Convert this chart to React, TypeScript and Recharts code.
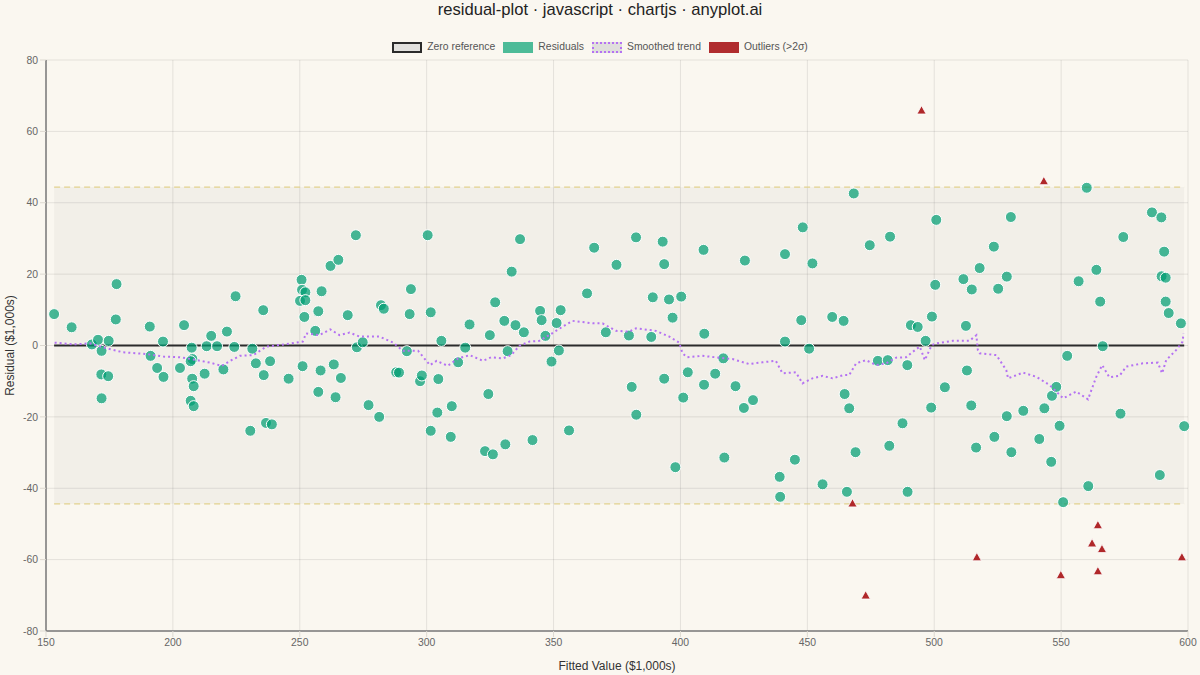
import React from 'react';
import {
  ScatterChart, Scatter, XAxis, YAxis, CartesianGrid, ReferenceArea, ReferenceLine,
} from 'recharts';

// fitted value ($1,000s), residual ($1,000s)
const residualPoints: [number, number][] = [
  [153.2, 8.8], [160.1, 5.1], [168.1, 0.3], [170.5, 1.6], [171.9, -1.5], [174.7, 1.3],
  [177.8, 17.2], [177.5, 7.3], [171.8, -8.1], [174.5, -8.6], [171.9, -14.8], [190.9, 5.3],
  [191.2, -2.9], [193.8, -6.3], [196.1, 1.1], [196.3, -8.8], [202.8, -6.3], [204.4, 5.7],
  [207.4, -0.6], [207.7, -3.8], [207.0, -4.4], [207.6, -9.3], [208.2, -11.4], [207.0, -15.5],
  [208.2, -17.0], [212.5, -7.9], [213.3, -0.2], [215.1, 2.7], [217.4, -0.2], [219.9, -6.7],
  [221.3, 3.9], [224.7, 13.8], [224.2, -0.4], [230.5, -23.9], [231.3, -0.9], [232.7, -5.0],
  [235.6, 9.9], [235.8, -8.3], [236.7, -21.7], [238.3, -4.4], [239.0, -22.1], [245.6, -9.3],
  [250.7, 18.4], [250.9, 15.6], [252.2, 14.9], [250.1, 12.5], [252.2, 12.7], [251.8, 8.0],
  [251.1, -5.8], [256.1, 4.1], [257.3, 9.6], [258.6, 15.2], [258.2, -7.0], [257.3, -13.0],
  [262.1, 22.3], [263.4, -5.3], [264.1, -14.5], [265.2, 24.0], [266.2, -9.1],
  [268.9, 8.5], [272.1, 30.9], [272.5, -0.5], [274.8, 0.9], [277.1, -16.7], [281.3, -20.0],
  [282.0, 11.3], [283.1, 10.3], [288.0, -7.5], [289.1, -7.6], [292.2, -1.6], [293.3, 8.8],
  [293.8, 15.8], [297.4, -10.0], [298.1, -8.4], [300.4, 30.9], [301.6, 9.3], [301.6, -23.9],
  [304.2, -18.8], [304.6, -9.4], [305.8, 1.3], [309.5, -25.6], [309.9, -17.0], [312.4, -4.7],
  [315.2, -0.6], [316.9, 5.9], [323.0, -29.6], [324.3, -13.6], [324.9, 2.9], [326.1, -30.5],
  [327.0, 12.1], [330.6, 6.9], [331.0, -27.7], [331.9, -1.6], [333.5, 20.7], [335.0, 5.7],
  [336.8, 29.8], [338.3, 3.7], [341.7, -26.5], [344.7, 9.7], [345.3, 7.1], [346.8, 2.7],
  [349.2, -4.5], [351.2, 6.3], [352.1, -1.4], [352.8, 9.9], [356.1, -23.8], [363.2, 14.6],
  [366.0, 27.4], [370.6, 3.7], [374.8, 22.6], [379.7, 2.8], [380.8, -11.6], [382.5, 30.3],
  [382.6, -19.4], [388.5, 2.4], [389.1, 13.5], [393.0, 29.1], [393.6, 22.8], [393.6, -9.3],
  [395.5, 12.9], [396.9, 7.8], [398.0, -34.1], [400.3, 13.7], [401.1, -14.6], [402.9, -7.5],
  [409.1, 26.8], [409.4, 3.3], [409.3, -11.0], [413.7, -7.9], [416.9, -3.6], [417.3, -31.4],
  [421.7, -11.4], [425.0, -17.5], [425.4, 23.8], [428.6, -15.3], [439.1, -36.8], [439.3, -42.4],
  [441.2, 25.6], [441.2, 1.1], [445.1, -32.0], [447.6, 7.1], [448.2, 33.1], [450.7, -0.9],
  [452.0, 23.0], [456.0, -38.9], [459.8, 8.0], [464.3, 6.9], [464.7, -13.6], [465.6, -41.0],
  [466.5, -17.6], [468.3, 42.6], [469.0, -29.9], [474.6, 28.1], [477.8, -4.3], [481.7, -4.1],
  [482.3, -28.1], [482.6, 30.5], [487.5, -21.8], [489.4, -5.5], [489.5, -41.0], [490.8, 5.7],
  [493.5, 5.2], [496.6, 1.3], [498.8, -17.4], [499.1, 8.1], [500.4, 17.0], [500.8, 35.2],
  [504.2, -11.7], [511.5, 18.6], [512.5, 5.5], [512.9, -7.0], [514.6, -16.8], [514.8, 15.7],
  [516.5, -28.6], [517.9, 21.7], [523.5, 27.7], [523.7, -25.6], [525.2, 15.9], [528.6, 19.3],
  [528.6, -19.8], [530.2, 36.0], [530.4, -29.9], [535.1, -18.3], [541.4, -26.2], [543.4, -17.6],
  [546.1, -32.6], [546.4, -14.1], [548.1, -11.6], [549.4, -22.5], [550.8, -43.9], [552.4, -2.9],
  [556.9, 18.0], [560.1, 44.2], [560.7, -39.4], [563.9, 21.2], [565.4, 12.3], [566.4, -0.2],
  [573.4, -19.1], [574.5, 30.4], [585.8, 37.3], [588.9, -36.3], [589.5, 35.9], [589.6, 19.4],
  [590.6, 26.3], [591.2, 19.0], [591.2, 12.3], [592.4, 9.1], [597.2, 6.2], [598.5, -22.6],
];

// points beyond 2 sigma
const outlierPoints: [number, number][] = [
  [495.0, 65.9], [543.2, 46.1], [467.8, -44.2], [473.0, -70.0], [516.8, -59.3], [549.9, -64.3],
  [564.5, -50.3], [562.2, -55.4], [566.1, -57.0], [564.5, -63.2], [597.6, -59.3],
];

// smoothed trend
const trendPoints: [number, number][] = [
  [153.4, 0.8], [160.8, 0.3], [167.3, 0.6], [173.9, -0.8], [180.4, -1.9], [189.6, -2.4],
  [196.2, -3.1], [202.8, -3.3], [208.0, -3.9], [214.6, -4.8], [219.2, -5.7], [223.1, -4.1],
  [226.4, -2.9], [231.7, -2.7], [236.9, -0.3], [244.8, 0.4], [251.2, 1.1], [252.5, 3.4],
  [257.7, 2.9], [262.0, 4.5], [265.7, 2.9], [269.6, 3.6], [273.6, 2.5], [281.4, 2.5],
  [286.8, 0.8], [290.7, -1.5], [296.6, -1.5], [301.3, -5.5], [303.9, -4.3], [308.3, -5.7],
  [312.4, -3.6], [317.0, -2.7], [322.2, -4.3], [325.4, -3.3], [330.0, -3.6], [333.3, -2.7],
  [336.5, -0.1], [340.5, 1.1], [344.4, 1.3], [348.3, 2.9], [353.6, 5.3], [357.5, 6.9],
  [365.4, 6.2], [369.3, 6.2], [374.6, 4.1], [379.8, 3.9], [382.5, 4.8], [390.3, 4.1],
  [395.6, 2.5], [399.5, 0.8], [400.8, -2.2], [402.7, -3.3], [408.6, -2.9], [413.9, -3.3],
  [420.5, -3.8], [427.1, -5.2], [432.3, -4.7], [437.6, -4.3], [440.2, -7.8], [445.5, -7.5],
  [448.1, -10.6], [452.0, -9.2], [456.0, -8.5], [459.9, -9.2], [464.2, -8.3], [466.5, -8.3],
  [469.2, -5.0], [473.1, -4.1], [477.1, -5.5], [481.0, -5.0], [485.0, -3.4], [488.9, -3.3],
  [491.5, -1.8], [494.3, -0.3], [496.3, -4.1], [499.0, 0.1], [500.8, 0.6], [507.3, 1.3],
  [513.9, 1.3], [516.6, 2.9], [517.2, -1.3], [517.9, -2.2], [524.5, -2.7], [528.4, -6.9],
  [529.1, -9.2], [535.0, -7.6], [540.3, -8.8], [545.5, -11.1], [550.8, -14.8], [556.0, -12.9],
  [560.6, -15.1], [563.9, -8.7], [566.2, -5.5], [569.0, -8.9], [573.0, -8.5], [575.7, -5.9],
  [582.2, -5.0], [588.1, -4.8], [589.8, -7.8], [591.4, -4.1], [595.3, -1.3], [597.9, 1.1],
  [598.2, 3.4],
];

const xTicks = [150, 200, 250, 300, 350, 400, 450, 500, 550, 600];
const yTicks = [-80, -60, -40, -20, 0, 20, 40, 60, 80];
const twoSigma = 44.4;
const fittedRange: [number, number] = [153.2, 598.5];

const FONT = '"Liberation Sans", Arial, Helvetica, sans-serif';
const TEAL = '#009E73';
const RED = '#B0282A';
const PURPLE = '#b572f2';
const GOLD = '#e2d28e';

const toXY = (pts: [number, number][]) => pts.map(([x, y]) => ({ x, y }));
const residualData = toXY(residualPoints);
const outlierData = toXY(outlierPoints);
const trendData = toXY(trendPoints);

const ResidualDot = (p: any) => (
  <circle cx={p.cx} cy={p.cy} r={5.5} fill={TEAL} fillOpacity={0.72} stroke="#ffffff" strokeWidth={1} />
);

const OutlierMark = (p: any) => {
  const s = 4.6;
  return (
    <polygon
      points={`${p.cx},${p.cy - s} ${p.cx + s},${p.cy + s * 0.8} ${p.cx - s},${p.cy + s * 0.8}`}
      fill={RED}
      stroke="#ffffff"
      strokeWidth={0.8}
    />
  );
};

const NoMark = () => <g />;

const legendItems = [
  { label: 'Zero reference', box: { background: '#e2e1de', border: '2px solid #2b2b2b' } },
  { label: 'Residuals', box: { background: '#4dbb98', border: '2px solid #4dbb98' } },
  { label: 'Smoothed trend', box: { background: '#e0dfdc', border: `2px dotted ${PURPLE}` } },
  { label: 'Outliers (>2σ)', box: { background: '#b02c2e', border: '2px solid #b02c2e' } },
];

export default function App() {
  return (
    <div style={{ position: 'absolute', left: 0, top: 0, width: 1200, height: 675, background: '#faf7f0', fontFamily: FONT }}>
      <div style={{ position: 'absolute', top: 0, left: 0, width: 1200, textAlign: 'center', fontSize: 16.6, lineHeight: '20px', color: '#222' }}>
        residual-plot · javascript · chartjs · anyplot.ai
      </div>
      <div style={{ position: 'absolute', top: 40, left: 0, width: 1200, display: 'flex', justifyContent: 'center', gap: 8, fontSize: 10.4, color: '#555', lineHeight: '14px' }}>
        {legendItems.map((it) => (
          <div key={it.label} style={{ display: 'flex', alignItems: 'center', gap: 5 }}>
            <span style={{ display: 'inline-block', width: 26, height: 7, ...it.box }} />
            <span>{it.label}</span>
          </div>
        ))}
      </div>
      <div style={{ position: 'absolute', left: 0, top: 0 }}>
        <ScatterChart width={1200} height={675} margin={{ top: 60, right: 12, bottom: 0, left: 0 }}>
          <CartesianGrid stroke="#000" strokeOpacity={0.09} />
          <ReferenceArea
            x1={fittedRange[0]} x2={fittedRange[1]} y1={-twoSigma} y2={twoSigma}
            fill="#000" fillOpacity={0.03} stroke="none"
          />
          <ReferenceLine
            segment={[{ x: fittedRange[0], y: twoSigma }, { x: fittedRange[1], y: twoSigma }]}
            stroke={GOLD} strokeWidth={1.2} strokeDasharray="6 4"
          />
          <ReferenceLine
            segment={[{ x: fittedRange[0], y: -twoSigma }, { x: fittedRange[1], y: -twoSigma }]}
            stroke={GOLD} strokeWidth={1.2} strokeDasharray="6 4"
          />
          <XAxis
            type="number" dataKey="x" domain={[150, 600]} ticks={xTicks} height={44}
            tick={{ fontSize: 10.4, fill: '#666', fontFamily: FONT }}
            tickLine={{ stroke: '#ddd9d1' }}
            axisLine={{ stroke: '#7a7a7a', strokeWidth: 1.5 }}
            label={{ value: 'Fitted Value ($1,000s)', position: 'insideBottom', offset: 5, fontSize: 12, fill: '#333', fontFamily: FONT }}
          />
          <YAxis
            type="number" dataKey="y" domain={[-80, 80]} ticks={yTicks} width={46}
            tick={{ fontSize: 10.4, fill: '#666', fontFamily: FONT }}
            tickLine={{ stroke: '#ddd9d1' }}
            axisLine={{ stroke: '#7a7a7a', strokeWidth: 1.5 }}
            label={{ value: 'Residual ($1,000s)', angle: -90, position: 'insideLeft', offset: 10, fontSize: 12, fill: '#333', fontFamily: FONT, style: { textAnchor: 'middle' } }}
          />
          <ReferenceLine
            segment={[{ x: fittedRange[0], y: 0 }, { x: fittedRange[1], y: 0 }]}
            stroke="#2b2b2b" strokeWidth={2}
          />
          <Scatter name="Residuals" data={residualData} shape={ResidualDot} isAnimationActive={false} />
          <Scatter
            name="Smoothed trend" data={trendData} shape={NoMark} isAnimationActive={false}
            fill="none" stroke={PURPLE}
            line={{ stroke: PURPLE, strokeWidth: 2, strokeDasharray: '2 3', fill: 'none' }}
          />
          <Scatter name="Outliers (>2σ)" data={outlierData} shape={OutlierMark} isAnimationActive={false} />
        </ScatterChart>
      </div>
    </div>
  );
}
